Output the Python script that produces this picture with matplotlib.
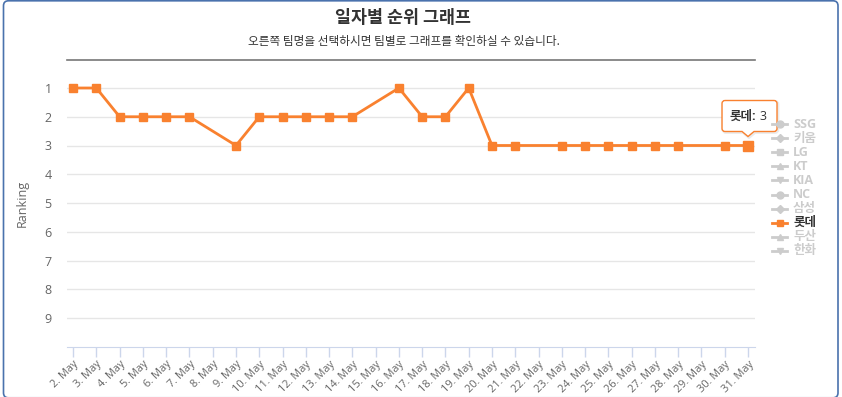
import matplotlib
matplotlib.use('Agg')
import matplotlib.pyplot as plt
import numpy as np
from matplotlib.patches import FancyBboxPatch, PathPatch
from matplotlib.path import Path

plt.rcParams['font.family'] = ['Open Sans', 'Noto Sans CJK KR', 'DejaVu Sans']

# data
days = list(range(2, 32))
day_labels = ['%d. May' % d for d in days]
# 롯데 ranking per day, None = no game
lotte_rank = [1, 1, 2, 2, 2, 2, None, 3, 2, 2, 2, 2, 2, None, 1, 2, 2, 1, 3, 3,
              None, 3, 3, 3, 3, 3, 3, None, 3, 3]
teams = ['SSG', '키움', 'LG', 'KT', 'KIA', 'NC', '삼성', '롯데', '두산', '한화']
team_markers = ['o', 'D', 's', '^', 'v', 'o', 'D', 's', '^', 'v']
visible_team = '롯데'
rank_ticks = list(range(1, 10))

title = '일자별 순위 그래프'
subtitle = '오른쪽 팀명을 선택하시면 팀별로 그래프를 확인하실 수 있습니다.'

ORANGE = '#f9812f'
W, H = 842, 397
KR = ['Noto Sans CJK KR', 'DejaVu Sans']

fig = plt.figure(figsize=(W / 100, H / 100), dpi=100)

# overlay in pixel coords (y down) for frame, legend, tooltip
over = fig.add_axes([0, 0, 1, 1], zorder=5)
over.set_xlim(0, W)
over.set_ylim(H, 0)
over.axis('off')
over.patch.set_alpha(0)

# plot area
x0, x1, ytop, ybot = 67, 755, 59.25, 346.75
ax = fig.add_axes([x0 / W, 1 - ybot / H, (x1 - x0) / W, (ybot - ytop) / H])
idx = np.arange(len(days))
xs = [i for i, r in zip(idx, lotte_rank) if r is not None]
ys = [r for r in lotte_rank if r is not None]
ax.plot(xs, ys, color=ORANGE, lw=2, marker='s', markersize=6, zorder=3)
ax.plot(xs[-1], ys[-1], marker='s', markersize=7.5, color=ORANGE, zorder=4)

ax.set_ylim(10, 0)
ax.set_xlim(-0.26, len(days) - 1 + 0.3)
ax.set_yticks(rank_ticks)
ax.set_yticklabels([str(r) for r in rank_ticks])
ax.grid(axis='y', color='#e6e6e6', lw=1)
ax.set_axisbelow(True)
for s in ['top', 'right', 'left']:
    ax.spines[s].set_visible(False)
ax.spines['bottom'].set_color('#ccd6eb')
ax.tick_params(axis='y', length=0, pad=11, labelsize=9, labelcolor='#666666')
ax.set_xticks(idx)
ax.set_xticklabels(day_labels, rotation=45, ha='right', va='top',
                   rotation_mode='anchor')
ax.tick_params(axis='x', length=7.2, color='#ccd6eb', width=1, pad=1.5,
               labelsize=7.9, labelcolor='#666666')
ax.set_ylabel('Ranking', color='#666666', fontsize=9, labelpad=11)

# frame and header
over.add_patch(FancyBboxPatch((3.5, 0.8), 834.5, 397, boxstyle='round,pad=0,rounding_size=5',
                              fc='none', ec='#4a72ad', lw=1.2))
over.text(403, 18, title, ha='center', va='center', fontsize=12.5,
          fontweight='bold', color='#333333', family=KR)
over.text(404, 42, subtitle, ha='center', va='center', fontsize=8.4,
          fontweight='medium', color='#333333', family=KR)
over.plot([67, 755], [60, 60], color='#777777', lw=1.2)

# legend
for i, (team, mk) in enumerate(zip(teams, team_markers)):
    yy = 124 + i * 14.1
    on = team == visible_team
    c = ORANGE if on else '#cccccc'
    over.plot([772, 787], [yy, yy], color=c, lw=2)
    over.plot(779.5, yy, marker=mk, color=c, markersize=5 if mk != 'D' else 4)
    over.text(793, yy, team, ha='left', va='center', fontsize=9,
              fontweight='bold', color='#333333' if on else '#cccccc')

# tooltip anchored at last point
fig.canvas.draw()
dx, dy = ax.transData.transform((xs[-1], ys[-1]))
px, py = dx, H - dy
bx0, bx1, by0, by1 = px - 26, px + 29, py - 45, py - 14
r = 3
verts = [(bx0 + r, by0), (bx1 - r, by0), (bx1, by0), (bx1, by0 + r),
         (bx1, by1 - r), (bx1, by1), (bx1 - r, by1),
         (px + 6, by1), (px, py - 9), (px - 6, by1),
         (bx0 + r, by1), (bx0, by1), (bx0, by1 - r),
         (bx0, by0 + r), (bx0, by0), (bx0 + r, by0)]
codes = [Path.MOVETO, Path.LINETO, Path.CURVE3, Path.CURVE3,
         Path.LINETO, Path.CURVE3, Path.CURVE3,
         Path.LINETO, Path.LINETO, Path.LINETO,
         Path.LINETO, Path.CURVE3, Path.CURVE3,
         Path.LINETO, Path.CURVE3, Path.CURVE3]
shadow = Path([(vx + 1, vy + 1) for vx, vy in verts], codes)
over.add_patch(PathPatch(shadow, fc='none', ec='#000000', lw=2, alpha=0.08))
over.add_patch(PathPatch(Path(verts, codes), fc='white', ec=ORANGE, lw=1))
over.text(px + 8, py - 29, visible_team + ':', ha='right', va='center',
          fontsize=9, fontweight='bold', color='#333333')
over.text(px + 11, py - 29, str(ys[-1]), ha='left', va='center',
          fontsize=9, color='#333333')

fig.savefig('out.png', dpi=100)
